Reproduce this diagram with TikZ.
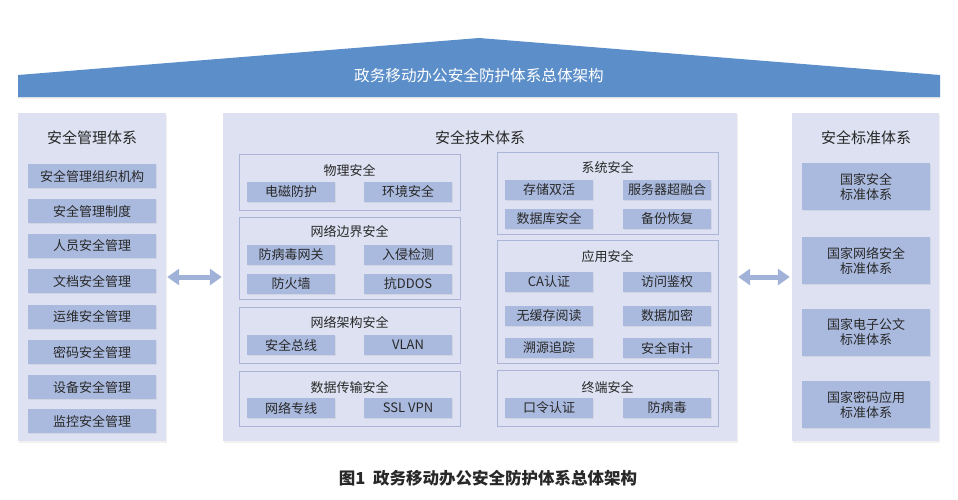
\documentclass[tikz,border=0pt]{standalone}
\usepackage{fontspec}
\setmainfont{Noto Sans CJK SC}
\definecolor{roofblue}{RGB}{92,143,201}
\definecolor{panelbg}{RGB}{221,225,241}
\definecolor{itembg}{RGB}{170,186,222}
\definecolor{subline}{RGB}{170,180,214}
\definecolor{arrowblue}{RGB}{160,178,216}
\definecolor{textgray}{RGB}{40,40,40}
\usepackage{tikz}
\usetikzlibrary{arrows.meta, shadows}

\begin{document}
\begin{tikzpicture}[x=1pt, y=-1pt,
  panel/.style={fill=panelbg, inner sep=0pt, minimum width=#1,
    minimum height=328, drop shadow={shadow xshift=1pt,
    shadow yshift=-1.5pt, opacity=0.12}},
  subpanel/.style={draw=subline, fill=panelbg, line width=0.8pt,
    inner sep=0pt, minimum width=221, minimum height=#1},
  item/.style={fill=itembg, inner sep=0pt, minimum width=#1,
    minimum height=20, text=textgray, font=\fontsize{13}{15}\selectfont,
    drop shadow={shadow xshift=0.8pt, shadow yshift=-0.8pt, opacity=0.12}},
  biglabel/.style={text=textgray, font=\fontsize{15}{17}\selectfont},
  sublabel/.style={text=textgray, font=\fontsize{13}{15}\selectfont},
  dblarw/.style={{Triangle[length=12pt,width=16pt]}-{Triangle[length=12pt,width=16pt]},
    line width=5pt, arrowblue},
]
\useasboundingbox (0,0) rectangle (958,499);

% Roof
\fill[roofblue, drop shadow={shadow xshift=0pt, shadow yshift=-1.5pt, opacity=0.15}]
  (18,75) -- (479,38) -- (940,75) -- (940,97) -- (18,97) -- cycle;
\node[text=white, font=\fontsize{15.6}{17}\selectfont] (roof) at (479,76) {政务移动办公安全防护体系总体架构};

% Three columns
\node[panel=148] (lpanel) at (92,277) {};
\node[panel=514] (cpanel) at (480,277) {};
\node[panel=147] (rpanel) at (865.5,277) {};

\node[biglabel] (ltitle) at (92,138) {安全管理体系};
\node[biglabel] (ctitle) at (480,138) {安全技术体系};
\node[biglabel] (rtitle) at (866,138) {安全标准体系};

% Management items
\node[item=128, minimum height=24] (m0) at (92,176) {安全管理组织机构};
\node[item=128, minimum height=24] (m1) at (92,211) {安全管理制度};
\node[item=128, minimum height=24] (m2) at (92,246) {人员安全管理};
\node[item=128, minimum height=24] (m3) at (92,281) {文档安全管理};
\node[item=128, minimum height=24] (m4) at (92,317) {运维安全管理};
\node[item=128, minimum height=24] (m5) at (92,352) {密码安全管理};
\node[item=128, minimum height=24] (m6) at (92,387) {设备安全管理};
\node[item=128, minimum height=24] (m7) at (92,421) {监控安全管理};

% Technology, left column
\node[subpanel=56] (phys) at (349.5,182) {};
\node[sublabel] (physT) at (349.5,170) {物理安全};
\node[item=88] (p1) at (291,192) {电磁防护};
\node[item=88] (p2) at (408,192) {环境安全};

\node[subpanel=82] (bord) at (349.5,258) {};
\node[sublabel] (bordT) at (349.5,232) {网络边界安全};
\node[item=88] (b1) at (291,255) {防病毒网关};
\node[item=88] (b2) at (408,255) {入侵检测};
\node[item=88] (b3) at (291,284) {防火墙};
\node[item=88] (b4) at (408,284) {抗DDOS};

\node[subpanel=56] (arch) at (349.5,335) {};
\node[sublabel] (archT) at (349.5,322) {网络架构安全};
\node[item=88] (a1) at (291,345) {安全总线};
\node[item=88] (a2) at (408,345) {VLAN};

\node[subpanel=55] (trans) at (349.5,398.5) {};
\node[sublabel] (transT) at (349.5,387) {数据传输安全};
\node[item=88] (t1) at (291,408) {网络专线};
\node[item=88] (t2) at (408,408) {SSL VPN};

% Technology, right column
\node[subpanel=82] (sys) at (607.5,193) {};
\node[sublabel] (sysT) at (607.5,167) {系统安全};
\node[item=88] (s1) at (549,190) {存储双活};
\node[item=88] (s2) at (667,190) {服务器超融合};
\node[item=88] (s3) at (549,219) {数据库安全};
\node[item=88] (s4) at (667,219) {备份恢复};

\node[subpanel=123] (app) at (607.5,301.5) {};
\node[sublabel] (appT) at (607.5,257) {应用安全};
\node[item=88] (c1) at (549,282) {CA认证};
\node[item=88] (c2) at (667,282) {访问鉴权};
\node[item=88] (c3) at (549,316) {无缓存阅读};
\node[item=88] (c4) at (667,316) {数据加密};
\node[item=88] (c5) at (549,348) {溯源追踪};
\node[item=88] (c6) at (667,348) {安全审计};

\node[subpanel=56] (term) at (607.5,398) {};
\node[sublabel] (termT) at (607.5,387) {终端安全};
\node[item=88] (e1) at (549,408) {口令认证};
\node[item=88] (e2) at (667,408) {防病毒};

% Standard items
\node[item=128, minimum height=47, align=center] (n0) at (866,186.5) {国家安全\\标准体系};
\node[item=128, minimum height=47, align=center] (n1) at (866,260.5) {国家网络安全\\标准体系};
\node[item=128, minimum height=47, align=center] (n2) at (866,332.5) {国家电子公文\\标准体系};
\node[item=128, minimum height=47, align=center] (n3) at (866,404.5) {国家密码应用\\标准体系};

% Links between columns
\draw[dblarw] ([xshift=1pt]lpanel.east) -- ([xshift=-1pt]cpanel.west);
\draw[dblarw] ([xshift=1pt]cpanel.east) -- ([xshift=-2pt]rpanel.west);

% Caption
\node[text=textgray, font=\bfseries\fontsize{16.5}{18}\selectfont] (cap) at (488,478) {图1\ \ 政务移动办公安全防护体系总体架构};
\end{tikzpicture}
\end{document}
